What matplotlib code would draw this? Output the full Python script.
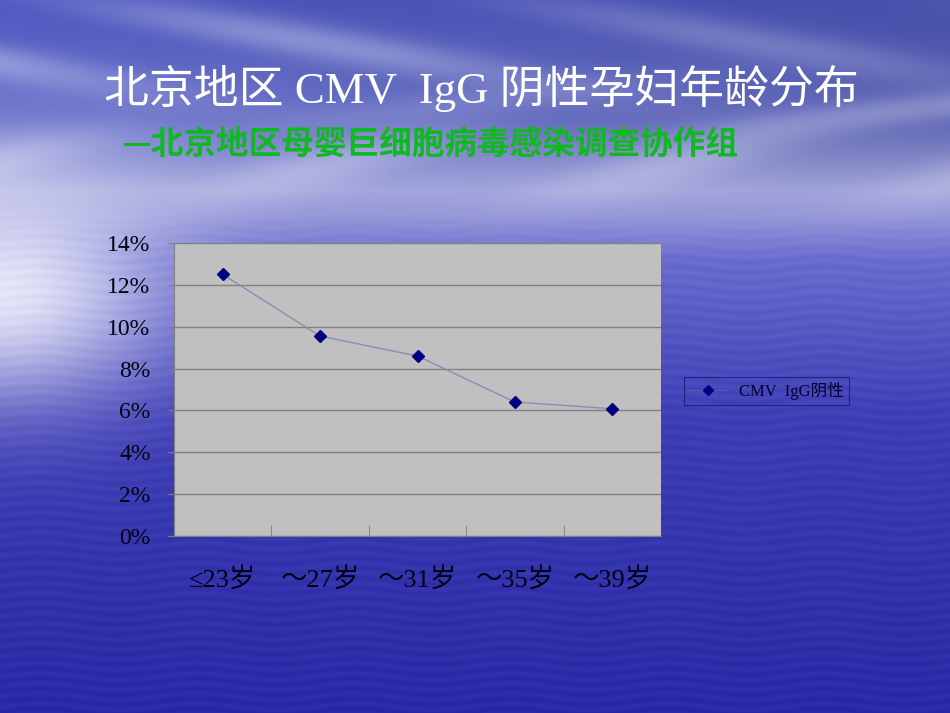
import numpy as np
import matplotlib
matplotlib.use("Agg")
import matplotlib.pyplot as plt
from matplotlib.lines import Line2D

# data
categories = ["≤23岁", "～27岁", "～31岁", "～35岁", "～39岁"]
rates = [12.5, 9.55, 8.6, 6.4, 6.08]   # percent
y_ticks = [0, 2, 4, 6, 8, 10, 12, 14]
series_name = "CMV  IgG阴性"
title = "北京地区 CMV  IgG 阴性孕妇年龄分布"
subtitle = "—北京地区母婴巨细胞病毒感染调查协作组"

serif_cjk = ["Liberation Serif", "Noto Sans CJK SC", "DejaVu Sans"]
sans_cjk = ["Noto Sans CJK SC", "DejaVu Sans"]

W, H = 950, 713
fig = plt.figure(figsize=(9.5, 7.13), dpi=100)

# background: cloudy sky over the sea, made of smooth gradients
yy, xx = np.mgrid[0:H, 0:W].astype(float)
xn = xx / W
hz = 200.0
# vertical profile: blue sky -> pale horizon -> lavender sea -> deep blue
prof_y = [0, 120, 190, 215, 260, 420, 713]
prof_c = np.array([[78, 88, 192], [110, 118, 205], [165, 168, 222], [150, 152, 218],
                   [105, 108, 205], [62, 62, 182], [42, 42, 166]], dtype=float)
img = np.stack([np.interp(yy, prof_y, prof_c[:, k]) for k in range(3)], axis=-1)
# sky a little darker on the right, fading out smoothly towards the horizon
sky_w = 1 / (1 + np.exp((yy - 170) / 15.0))
img *= (1 - 0.12 * xn * sky_w)[..., None]
# cloud streaks
c1 = (np.sin(xx / 70.0 - yy / 14.0) * 0.5 + 0.5) ** 2 * np.exp(-((yy - 45) / 45.0) ** 2) * (1 - 0.6 * xn)
c2 = (np.sin(xx / 55.0 + yy / 20.0) * 0.5 + 0.5) ** 2 * np.exp(-((yy - 165) / 35.0) ** 2)
c3 = (np.sin(xx / 80.0 + yy / 12.0) * 0.5 + 0.5) ** 2 * np.exp(-((yy - 110) / 30.0) ** 2) * xn
clouds = np.clip(0.45 * c1 + 0.35 * c2 + 0.3 * c3, 0, 1)
img = img * (1 - clouds[..., None]) + np.array([228, 230, 248.0]) * clouds[..., None]
# bright glow on the left of the water
glow = np.exp(-(xx / 160.0) ** 2 - ((yy - 290) / 110.0) ** 2) * 0.9
img = img * (1 - glow[..., None]) + np.array([242, 242, 252.0]) * glow[..., None]
# soft ripples on the water
rip = np.sin(yy / 1.6 + 2 * np.sin(xx / 25.0)) * np.clip((yy - hz) / 60.0, 0, 1) * 3.5
img = img + rip[..., None]
img = np.clip(img, 0, 255) / 255.0

bg = fig.add_axes([0, 0, 1, 1], zorder=-10)
bg.imshow(img, aspect="auto", extent=[0, 1, 0, 1], interpolation="bilinear")
bg.axis("off")

# titles
fig.text(0.507, 1 - 88 / H, title, color="white", fontsize=32.3, ha="center", va="center",
         family=serif_cjk)
fig.text(0.452, 1 - 144 / H, subtitle, color="#12b823", fontsize=23.5, ha="center",
         va="center", family=sans_cjk, fontweight="bold")

# chart
ax = fig.add_axes([174 / W, 177 / H, 487 / W, 293 / H])
ax.set_facecolor("#c0c0c0")
x = np.arange(len(categories))
ax.plot(x, rates, color="#8c8cb4", lw=1.0, marker="D", markersize=6,
        markerfacecolor="#000080", markeredgecolor="#000080", zorder=3)
ax.set_xlim(-0.5, len(categories) - 0.5)
ax.set_ylim(0, 14)
ax.set_yticks(y_ticks)
ax.set_yticklabels([f"{v}%" for v in y_ticks], family=serif_cjk, fontsize=17, color="#000010")
ax.grid(axis="y", color="#808080", lw=1.0)
ax.set_axisbelow(True)
ax.set_xticks(x)
ax.set_xticklabels(categories, family=serif_cjk, fontsize=19, color="#000010")
ax.tick_params(axis="x", which="major", length=0, pad=22)
ax.set_xticks(np.arange(0.5, len(categories) - 0.5), minor=True)
ax.tick_params(axis="x", which="minor", direction="in", length=8, color="#808080")
ax.tick_params(axis="y", length=4, color="#808080", pad=13)
for s in ["top", "right"]:
    ax.spines[s].set_visible(False)
for s in ["left", "bottom"]:
    ax.spines[s].set_color("#808080")

# legend
handle = Line2D([], [], color="#6060a0", lw=0.8, marker="D", markersize=5,
                markerfacecolor="#000080", markeredgecolor="#000080")
leg = fig.legend([handle], [series_name], loc="center left",
                 bbox_to_anchor=(676 / W, 1 - 391 / H), frameon=True,
                 prop={"family": serif_cjk, "size": 12}, handlelength=2.2,
                 borderpad=0.3, fancybox=False)
leg.get_frame().set_facecolor("none")
leg.get_frame().set_edgecolor("#1a1a70")
leg.get_frame().set_linewidth(0.8)
for t in leg.get_texts():
    t.set_color("#000030")

fig.savefig("out.png", dpi=100)
